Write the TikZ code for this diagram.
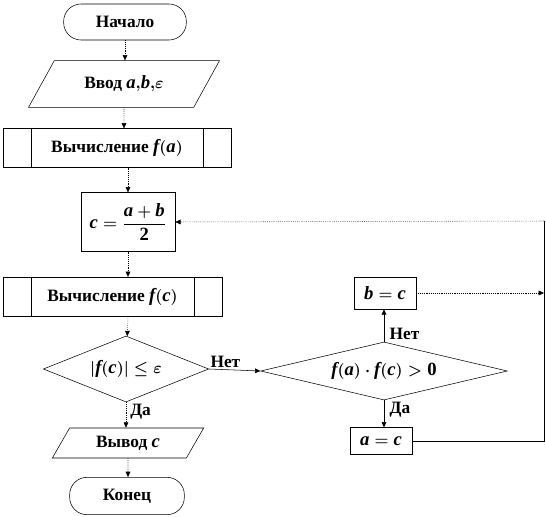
\documentclass[tikz,border=0pt]{standalone}
\usepackage{amsmath}
\usepackage{fontspec}
\setmainfont{Liberation Serif}
\usetikzlibrary{shapes.geometric, arrows.meta, calc}

\newcommand{\vr}[1]{\text{\bfseries\itshape\fontsize{14}{16}\selectfont #1}}
\newcommand{\nm}[1]{\text{\bfseries\fontsize{14}{16}\selectfont #1}}

\tikzset{
  base/.style={draw, thin, font=\bfseries\fontsize{13}{15}\selectfont, inner sep=1pt},
  term/.style={base, rounded corners=13pt, minimum width=92pt, minimum height=27pt},
  io/.style={base, trapezium, trapezium stretches=true},
  proc/.style={base, minimum height=29pt,
    path picture={
      \draw ([xshift=21pt]path picture bounding box.north west) -- ([xshift=21pt]path picture bounding box.south west);
      \draw ([xshift=-21pt]path picture bounding box.north east) -- ([xshift=-21pt]path picture bounding box.south east);
    }},
  act/.style={base, minimum width=46.5pt},
  cond/.style={base, diamond, inner sep=0pt},
  flow/.style={densely dotted, -{Triangle[length=4pt, width=3.5pt]}},
  solidflow/.style={-{Triangle[length=4pt, width=3.5pt]}},
  lbl/.style={font=\bfseries\fontsize{13}{15}\selectfont, inner sep=1pt}
}

\begin{document}
\begin{tikzpicture}[x=0.75pt, y=-0.75pt]
  \useasboundingbox (0,0) rectangle (546,517);
  \boldmath
  \node[term] (start) at (125,22) {Начало};
  \node[io, trapezium left angle=51, trapezium right angle=129,
    minimum width=144pt, minimum height=35pt] (input) at (124,84)
    {Ввод $\vr{a}{,}\vr{b}{,}\varepsilon$};
  \node[proc, minimum width=171pt] (fa) at (117,148)
    {Вычисление $\vr{f}(\vr{a})$};
  \node[base, minimum width=70.5pt, minimum height=44pt] (cbox) at (128,222)
    {$\vr{c}=\dfrac{\vr{a}+\vr{b}}{\nm{2}}$};
  \node[proc, minimum width=164pt] (fc) at (112.5,296.5)
    {Вычисление $\vr{f}(\vr{c})$};
  \node[cond, shape aspect=2.5, minimum width=124pt, minimum height=49.5pt] (dia1) at (126,369)
    {$\lvert\vr{f}(\vr{c})\rvert\leq\varepsilon$};
  \node[io, trapezium left angle=60, trapezium right angle=120,
    minimum width=114pt, minimum height=22.5pt] (out) at (128,443)
    {Вывод $\vr{c}$};
  \node[term, minimum width=86pt, minimum height=28pt] (end) at (127,496) {Конец};

  \node[cond, shape aspect=4.25, minimum width=185pt, minimum height=43.5pt] (dia2) at (384,371)
    {$\vr{f}(\vr{a})\cdot\vr{f}(\vr{c})>\nm{0}$};
  \node[act, minimum height=24pt] (bc) at (385,293) {$\vr{b}=\vr{c}$};
  \node[act, minimum height=20pt] (ac) at (381,441) {$\vr{a}=\vr{c}$};
  \coordinate (rt) at (544,221);

  \draw[flow] (start) -- (start |- input.north);
  \draw[flow] (input) -- (input |- fa.north);
  \draw[flow] (cbox |- fa.south) -- (cbox);
  \draw[flow] (cbox) -- (cbox |- fc.north);
  \draw[flow] (cbox |- fc.south) -- (dia1);
  \draw[flow] (dia1) -- (dia1 |- out.north);
  \draw[flow] (out) -- (out |- end.north);
  \draw[solidflow] (dia1.east) -- (dia2.west);
  \draw[solidflow] (dia2.north) -- (dia2 |- bc.south);
  \draw[solidflow] (dia2.south) -- (dia2 |- ac.north);
  \draw (ac.east) -| (rt);
  \draw[flow] (rt) -- (cbox.east);
  \draw[flow] (bc.east) -- (rt |- bc.east);

  \node[lbl, anchor=south west] at (dia1.east) {Нет};
  \node[lbl, anchor=north west] at ([xshift=2pt]dia1.south) {Да};
  \node[lbl, anchor=south west] at ([xshift=3pt]dia2.north) {Нет};
  \node[lbl, anchor=north west] at ([xshift=3pt]dia2.south) {Да};
\end{tikzpicture}
\end{document}
